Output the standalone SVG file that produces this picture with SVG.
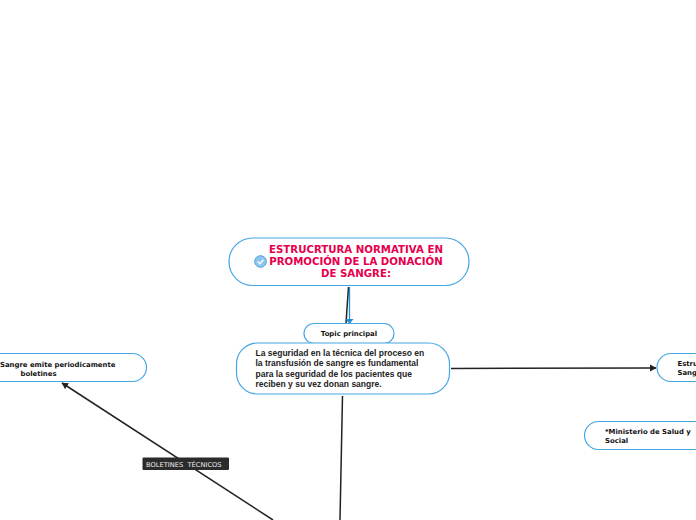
<svg xmlns="http://www.w3.org/2000/svg" width="696" height="520" viewBox="0 0 696 520">
<style>
.n{fill:#fff;stroke:#45a6e6;stroke-width:1.2}
.c{fill:none;stroke:#222;stroke-width:1.5}
text{font-family:"DejaVu Sans",Verdana,sans-serif}
.t{font-size:6.900px;font-weight:700;fill:#111}
.b{font-family:"Liberation Sans",Arial,sans-serif;font-size:8.500px;font-weight:700;fill:#222}
.h{font-size:10.200px;font-weight:700;fill:#e6004c;text-anchor:middle}
</style>
<defs>
<marker id="a" markerWidth="8" markerHeight="8" refX="6" refY="3.5" orient="auto" markerUnits="userSpaceOnUse"><path d="M0 0L6.500 3.500L0 7z" fill="#222"/></marker>
</defs>
<g id="connectors">
<path class="c" d="M348.500 287L346 323"/>
<path d="M349.500 287L349.500 319" fill="none" stroke="#1f8fd8" stroke-width="1.300"/>
<path d="M345.500 319L353.500 319L349.500 324z" fill="#1f8fd8"/>
<path class="c" d="M451 368.500L656 368" marker-end="url(#a)"/>
<path class="c" d="M342.500 396L340 520"/>
<path class="c" d="M273 520L62 383" marker-end="url(#a)"/>
</g>
<g id="node-title">
<rect class="n" x="229" y="238" width="240" height="47.500" rx="23.700"/>
<circle cx="260.500" cy="261.500" r="5.800" fill="#8ec7ee" stroke="#4a9fdc"/>
<path d="M257.800 261.500L260 263.800L263.500 259.800" fill="none" stroke="#fff" stroke-width="1.300"/>
<text class="h" x="356" y="253">ESTRUCRTURA NORMATIVA EN</text>
<text class="h" x="356" y="265">PROMOCIÓN DE LA DONACIÓN</text>
<text class="h" x="356" y="277">DE SANGRE:</text>
</g>
<g id="node-topic">
<rect class="n" x="304" y="323.500" width="90" height="20" rx="10"/>
<text class="t" x="349" y="336" text-anchor="middle">Topic principal</text>
</g>
<g id="node-main">
<rect class="n" x="236.500" y="343" width="213" height="51" rx="21"/>
<text class="b" x="255.500" y="356">La seguridad en la técnica del proceso en</text>
<text class="b" x="255.500" y="366">la transfusión de sangre es fundamental</text>
<text class="b" x="255.500" y="377">para la seguridad de los pacientes que</text>
<text class="b" x="255.500" y="387">reciben y su vez donan sangre.</text>
</g>
<g id="node-left">
<rect class="n" x="-60" y="353.500" width="206.500" height="28" rx="14"/>
<text class="t" x="0" y="367">Sangre emite periodicamente</text>
<text class="t" x="20.500" y="376">boletines</text>
</g>
<g id="node-right">
<rect class="n" x="657" y="353.500" width="120" height="28" rx="14"/>
<text class="t" x="677.500" y="366">Estru</text>
<text class="t" x="677.500" y="375">Sang</text>
</g>
<g id="node-ministerio">
<rect class="n" x="584.500" y="421.500" width="200" height="28" rx="14"/>
<text class="t" x="605" y="434">*Ministerio de Salud y</text>
<text class="t" x="605" y="443">Social</text>
</g>
<g id="label-boletines">
<rect x="142.500" y="457.500" width="86.500" height="12.500" rx="1" fill="#2b2b2b"/>
<text x="146" y="466.500" font-size="6.700px" fill="#eee" xml:space="preserve">BOLETINES  TÉCNICOS</text>
</g>
</svg>
